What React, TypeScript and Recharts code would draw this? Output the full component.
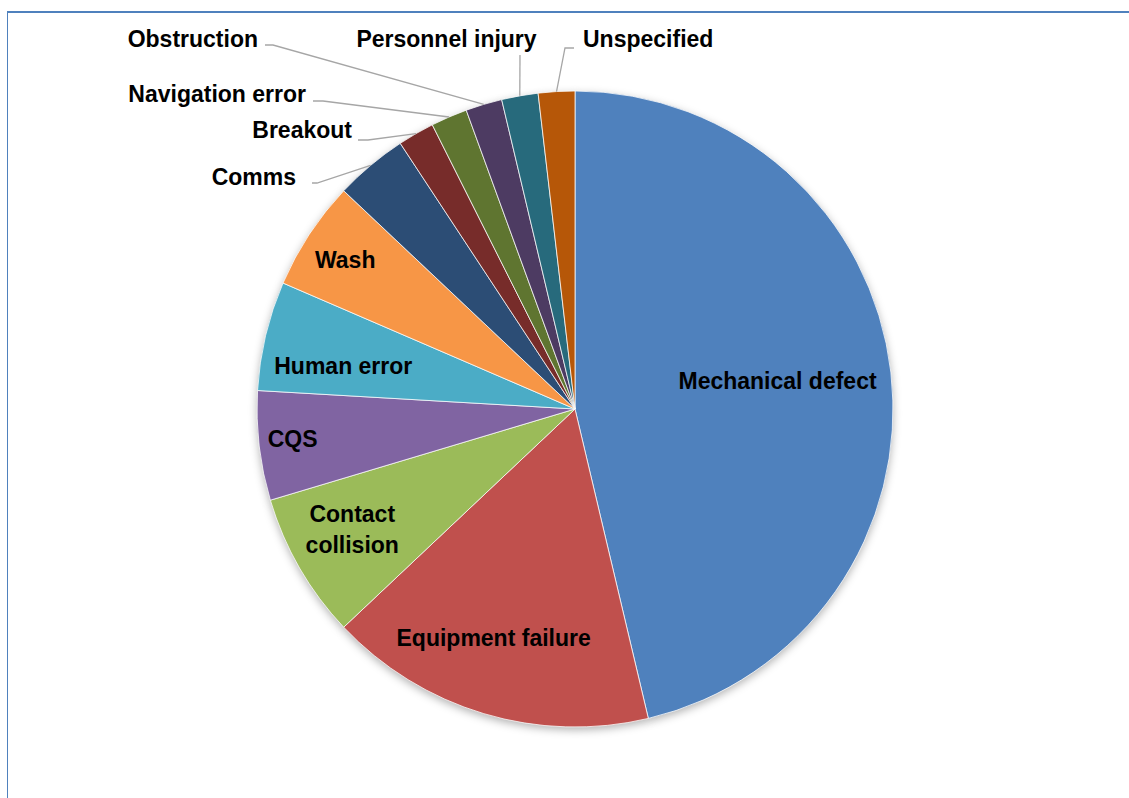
import { PieChart, Pie, Cell } from 'recharts'

const causes = [
  'Mechanical defect',
  'Equipment failure',
  'Contact collision',
  'CQS',
  'Human error',
  'Wash',
  'Comms',
  'Breakout',
  'Navigation error',
  'Obstruction',
  'Personnel injury',
  'Unspecified',
]
const incidents = [25, 9, 4, 3, 3, 3, 2, 1, 1, 1, 1, 1]
const colors = [
  '#4F81BD', '#C0504D', '#9BBB59', '#8064A2', '#4BACC6', '#F79646',
  '#2C4D75', '#772C2A', '#5F7530', '#4D3B62', '#276A7C', '#B65708',
]

const data = causes.map((name, i) => ({ name, value: incidents[i] }))

// where each label goes: big slices get it inside (fraction of radius, small angle nudge),
// the thin ones get an outside label with an elbowed leader line
type Inside = { kind: 'in'; r: number; shift: number; wrap?: boolean }
type Outside = { kind: 'out'; x: number; y: number; anchor: 'start' | 'middle' | 'end'; line: number[][] }
const labelLayout: (Inside | Outside)[] = [
  { kind: 'in', r: 0.643, shift: -1.2 },
  { kind: 'in', r: 0.764, shift: 2.9 },
  { kind: 'in', r: 0.797, shift: 1.5, wrap: true },
  { kind: 'in', r: 0.893, shift: 0.7 },
  { kind: 'in', r: 0.741, shift: -2.9 },
  { kind: 'in', r: 0.861, shift: -0.4 },
  { kind: 'out', x: 296, y: 185, anchor: 'end', line: [[312, 183], [317, 183]] },
  { kind: 'out', x: 352, y: 138, anchor: 'end', line: [[358, 140], [368, 140]] },
  { kind: 'out', x: 306, y: 102, anchor: 'end', line: [[313, 101], [323, 101]] },
  { kind: 'out', x: 258, y: 47, anchor: 'end', line: [[265, 45], [273, 45]] },
  { kind: 'out', x: 446.5, y: 47, anchor: 'middle', line: [[520, 55]] },
  { kind: 'out', x: 583, y: 47, anchor: 'start', line: [[574, 48], [565, 48]] },
]

const RADIAN = Math.PI / 180
const labelStyle = {
  fontFamily: '"Liberation Sans", Arial, sans-serif',
  fontWeight: 700,
  fontSize: 23,
}

function renderLabel(props: any) {
  const { cx, cy, midAngle, outerRadius, index, name } = props
  const spec = labelLayout[index]
  if (!spec) return null
  if (spec.kind === 'in') {
    const a = (midAngle - spec.shift) * RADIAN
    const r = outerRadius * spec.r
    const x = cx + r * Math.cos(a)
    const y = cy - r * Math.sin(a)
    const lines = spec.wrap ? String(name).split(' ') : [String(name)]
    return (
      <text x={x} y={y} textAnchor="middle" dominantBaseline="central" fill="#000" style={labelStyle}>
        {lines.map((t, k) => (
          <tspan key={k} x={x} dy={k === 0 ? -(lines.length - 1) * 15.5 : 31}>
            {t}
          </tspan>
        ))}
      </text>
    )
  }
  const ax = cx + outerRadius * Math.cos(midAngle * RADIAN)
  const ay = cy - outerRadius * Math.sin(midAngle * RADIAN)
  const pts = [...spec.line, [ax, ay]].map((p) => p.join(',')).join(' ')
  return (
    <g>
      <polyline points={pts} fill="none" stroke="#A6A6A6" strokeWidth={1.3} />
      <text x={spec.x} y={spec.y} textAnchor={spec.anchor} fill="#000" style={labelStyle}>
        {name}
      </text>
    </g>
  )
}

export default function App() {
  return (
    <div style={{ position: 'absolute', left: 0, top: 0, width: 1129, height: 798, background: '#fff', overflow: 'hidden' }}>
      <div
        style={{
          position: 'absolute', left: 7, top: 11, right: -10, bottom: -10,
          borderTop: '2px solid #4F81BD', borderLeft: '1px solid #4F81BD',
        }}
      />
      <div style={{ position: 'absolute', left: 0, top: 0 }}>
        <PieChart width={1129} height={798} margin={{ top: 0, right: 0, bottom: 0, left: 0 }}>
          <defs>
            <filter id="pieShadow" x="-20%" y="-20%" width="140%" height="140%">
              <feGaussianBlur stdDeviation="4" />
            </filter>
          </defs>
          <Pie
            data={data}
            dataKey="value"
            nameKey="name"
            cx={575}
            cy={412}
            outerRadius={318}
            startAngle={90}
            endAngle={-270}
            stroke="none"
            label={false}
            labelLine={false}
            isAnimationActive={false}
          >
            {data.map((d) => (
              <Cell key={d.name} fill="#000" fillOpacity={0.3} filter="url(#pieShadow)" />
            ))}
          </Pie>
          <Pie
            data={data}
            dataKey="value"
            nameKey="name"
            cx={575}
            cy={409}
            outerRadius={318}
            startAngle={90}
            endAngle={-270}
            stroke="#fff"
            strokeWidth={0.75}
            label={renderLabel}
            labelLine={false}
            isAnimationActive={false}
          >
            {data.map((d, i) => (
              <Cell key={d.name} fill={colors[i]} />
            ))}
          </Pie>
        </PieChart>
      </div>
    </div>
  )
}
